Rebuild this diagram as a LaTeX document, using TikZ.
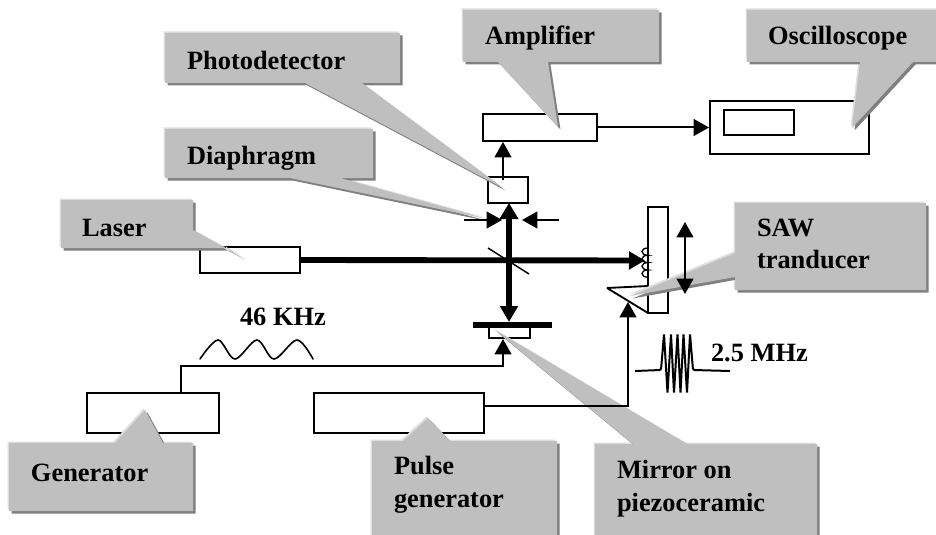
\documentclass[tikz,border=0pt]{standalone}
\usepackage{fontspec}
\setmainfont{Liberation Serif}
\usetikzlibrary{arrows.meta}
\definecolor{cbody}{HTML}{BFBFBF}
\definecolor{cshade}{HTML}{808080}
\definecolor{clight}{HTML}{DEDEDE}
\tikzset{
  instr/.style={draw=black,line width=1.4pt,fill=white,inner sep=0pt,minimum width=0pt,minimum height=0pt},
  lbl/.style={font=\fontsize{19.8}{24.75}\selectfont\bfseries,inner sep=0pt,outer sep=0pt,align=left},
  tiparrow/.style={line width=1.5pt,-{Triangle[length=11.5pt,width=12.5pt]}},
  tiptwo/.style={line width=1.5pt,{Triangle[length=11.5pt,width=12.5pt]}-{Triangle[length=11.5pt,width=12.5pt]}},
  beam/.style={line width=4.4pt,-{Triangle[length=12pt,width=13pt]}},
  beamtwo/.style={line width=4.4pt,{Triangle[length=12pt,width=13pt]}-{Triangle[length=12pt,width=13.5pt]}},
}
% \instrbox{name}{x1}{y1}{x2}{y2}
\newcommand{\instrbox}[5]{\node[instr,minimum width={(#4-#2)*0.75pt},minimum height={(#5-#3)*0.75pt}] (#1) at ({(#2+#4)/2},{(#3+#5)/2}) {};}
% \callshape{closed polygon}
\newcommand{\callshape}[1]{%
  \fill[clight,shift={(-1.5,-1.5)}] #1;
  \fill[cshade,shift={(2.5,2.5)}] #1;
  \fill[cbody] #1;
}
\begin{document}
\begin{tikzpicture}[x=0.75pt,y=-0.75pt]
\clip (0,0) rectangle (936,535);
\fill[white] (0,0) rectangle (936,535);

% instruments
\instrbox{laser}{200}{247}{300}{273}
\instrbox{det}{488}{177}{528}{203}
\instrbox{amp}{483}{114}{597}{141}
\instrbox{osc}{710}{101}{869}{154}
\instrbox{screen}{724}{110}{794}{135}
\instrbox{plate}{648}{207}{668}{313}
\instrbox{piezo}{489}{327}{530}{338}
\instrbox{gen}{87}{393}{219}{433}
\instrbox{pulse}{314}{393}{484}{433}
\draw[line width=1.4pt] (607,288) -- (648,286) (607,288) -- (648,313);

% callouts
\callshape{(165,33) -- (400,33) -- (400,83) -- (362,83) -- (503,188) -- (305,83) -- (165,83) -- cycle}
\callshape{(165,129) -- (373,129) -- (373,178) -- (340,178) -- (487,219) -- (290,178) -- (165,178) -- cycle}
\callshape{(61,200) -- (193,200) -- (193,230) -- (242,257) -- (227,248) -- (61,248) -- cycle}
\callshape{(463,10) -- (659,10) -- (659,62) -- (548,62) -- (558,127) -- (498,62) -- (463,62) -- cycle}
\callshape{(747,10) -- (940,10) -- (940,62) -- (913,62) -- (852,128) -- (860,62) -- (747,62) -- cycle}
\callshape{(735,203) -- (926,203) -- (926,290) -- (735,290) -- (735,277) -- (630,296) -- (735,253) -- cycle}
\callshape{(9,443) -- (115,443) -- (145,410) -- (163,443) -- (193,443) -- (193,511) -- (9,511) -- cycle}
\callshape{(372,441) -- (403,441) -- (428,418) -- (450,441) -- (557,441) -- (557,540) -- (372,540) -- cycle}
\callshape{(595,444) -- (633,444) -- (495,330) -- (687,444) -- (817,444) -- (817,540) -- (595,540) -- cycle}

% labels
\node[lbl,anchor=base west] (lphoto) at (187,70) {Photodetector};
\node[lbl,anchor=base west] (ldia) at (187,164) {Diaphragm};
\node[lbl,anchor=base west] (llaser) at (82,236) {Laser};
\node[lbl,anchor=base west] (lamp) at (485,45) {Amplifier};
\node[lbl,anchor=base west] (losc) at (768,45) {Oscilloscope};
\node[lbl,anchor=base west] (lgen) at (31,481) {Generator};
\node[lbl,anchor=base west] (lpulse) at (394,474) {Pulse};
\node[lbl,anchor=base west] (lpulseb) at (394,507) {generator};
\node[lbl,anchor=base west] (lmirror) at (617,478) {Mirror on};
\node[lbl,anchor=base west] (lmirrorb) at (617,511) {piezoceramic};
\node[lbl,anchor=base west] (lsaw) at (757,236) {SAW};
\node[lbl,anchor=base west] (lsawb) at (757,268) {tranducer};
\node[lbl,anchor=base west] (lf1) at (240,325) {46 KHz};
\node[lbl,anchor=base west] (lf2) at (711,361) {2.5 MHz};

% mirror bar
\node[fill=black,inner sep=0pt,minimum width={79*0.75pt},minimum height={5.5*0.75pt}] (bar) at (512.5,325) {};

% named connector ends
\coordinate (coil) at (645,260.5);
\coordinate (vtop) at (509,203);
\coordinate (vbot) at (509,322);
\coordinate (spla) at (488,248);
\coordinate (splb) at (529,274);
\coordinate (detout) at (503,180);
\coordinate (diaLa) at (464,220);
\coordinate (diaLb) at (502,220);
\coordinate (diaRa) at (559,220);
\coordinate (diaRb) at (522,220);
\coordinate (motA) at (685,222);
\coordinate (motB) at (685,294);
\coordinate (genout) at (181,393);
\coordinate (genup) at (181,366);
\coordinate (pzturn) at (503,366);
\coordinate (pzin) at (503,339);
\coordinate (pout) at (484,406);
\coordinate (pturn) at (628,406);
\coordinate (wedge) at (628,302);

% connectors
\draw[beam] (laser.east) -- (coil);
\draw[beamtwo] (vbot) -- (vtop);
\draw[line width=1.1pt] (spla) -- (splb);
\draw[tiparrow] (detout) -- (detout |- amp.south);
\draw[tiparrow] (amp.east) -- (osc.west);
\draw[tiparrow] (diaLa) -- (diaLb);
\draw[tiparrow] (diaRa) -- (diaRb);
\draw[tiptwo] (motA) -- (motB);
\draw[tiparrow] (genout) -- (genup) -- (pzturn) -- (pzin);
\draw[tiparrow] (pout) -- (pturn) -- (wedge);

% transducer coil
\draw[line width=1pt] (648,248) .. controls (640,248) and (640,255) .. (648,255.3)
  .. controls (640,255.3) and (640,262.3) .. (648,262.6)
  .. controls (640,262.6) and (640,269.7) .. (648,270)
  .. controls (640,270) and (640,277) .. (648,277.3);

% waves
\draw[line width=1.2pt,line cap=round] plot[smooth,tension=0.55] coordinates
  {(200,359) (218,340) (235,359) (257,340) (274,359) (297,340) (313,359)};
\draw[line width=1.5pt,rounded corners=1pt] (635,371) -- (661,370) -- (664,334) -- (667.5,393) -- (671,334) -- (674,393) -- (677.5,334) -- (680.5,393) -- (683.5,334) -- (687,393) -- (690,334) -- (693,370) -- (730,371);
\end{tikzpicture}
\end{document}
